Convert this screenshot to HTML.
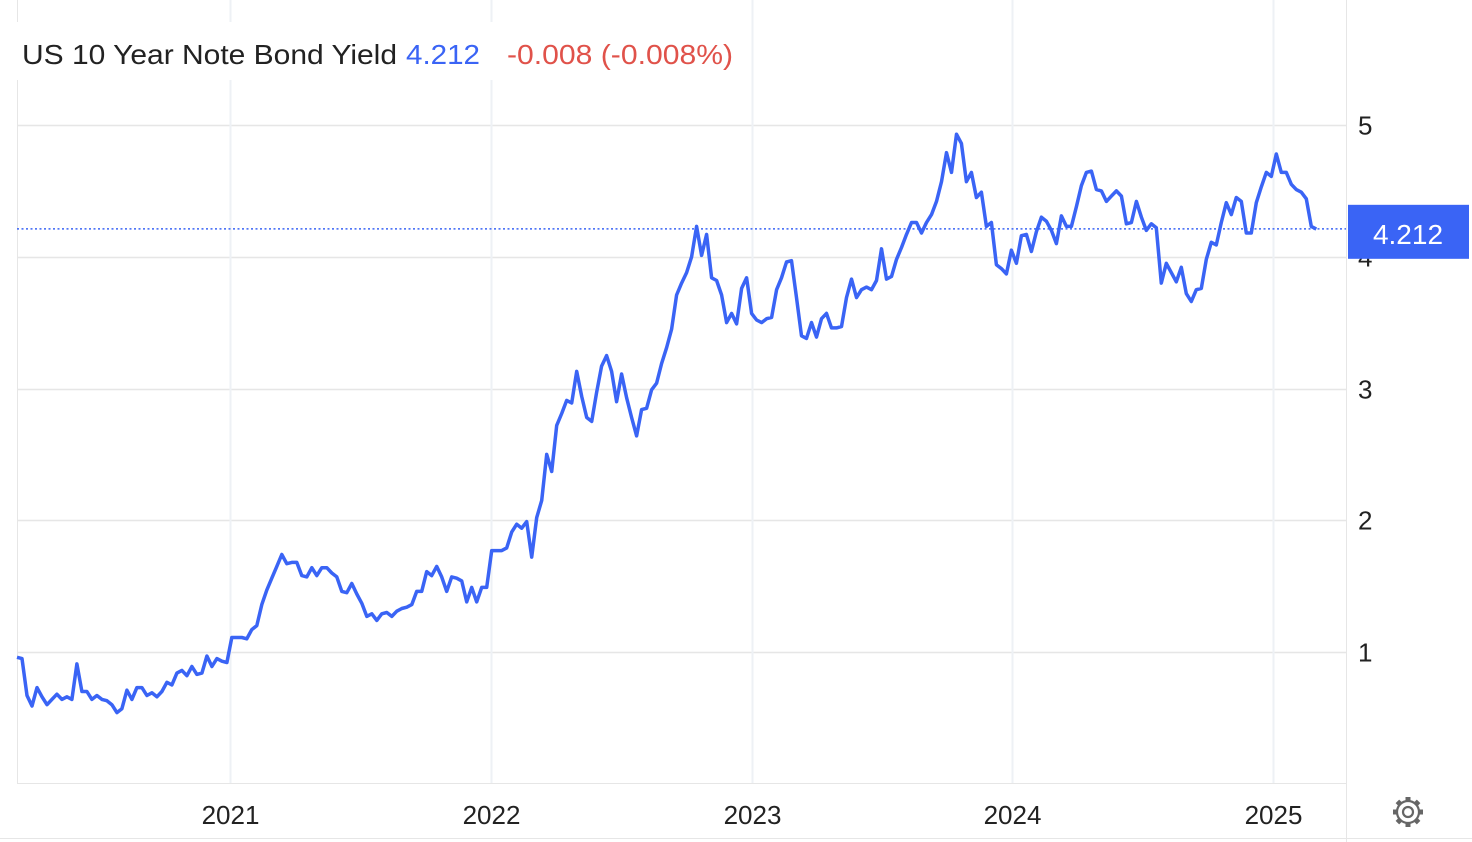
<!DOCTYPE html>
<html><head><meta charset="utf-8"><style>
html,body{margin:0;padding:0;background:#fff;width:1472px;height:842px;overflow:hidden;font-family:"Liberation Sans",Arial,sans-serif}
svg{position:absolute;left:0;top:0}
</style></head><body>
<svg id="chart" width="1472" height="842" viewBox="0 0 1472 842" xmlns="http://www.w3.org/2000/svg">
<g id="grid"></g>
<line x1="17.5" y1="0" x2="17.5" y2="783" stroke="#e6e6e6" stroke-width="1"/>
<line x1="1346.5" y1="0" x2="1346.5" y2="842" stroke="#e6e6e6" stroke-width="1"/>
<line x1="17" y1="783.5" x2="1346" y2="783.5" stroke="#e6e6e6" stroke-width="1"/>
<line x1="0" y1="838.5" x2="1472" y2="838.5" stroke="#e6e6e6" stroke-width="1"/>
<g id="ticks"></g>
<line id="lastline" stroke="#3a64f5" stroke-width="1.5" stroke-dasharray="2,2.5"/>
<path id="series" fill="none" stroke="#3a64f5" stroke-width="3.5" stroke-linejoin="round"/>
<rect x="12" y="22" width="732" height="58" fill="#fff"/>
<text x="22" y="64" font-size="28" fill="#222" textLength="375" lengthAdjust="spacingAndGlyphs">US 10 Year Note Bond Yield</text>
<text x="406" y="64" font-size="28" fill="#3a64f5" textLength="74" lengthAdjust="spacingAndGlyphs">4.212</text>
<text x="507" y="64" font-size="28" fill="#e0524a" textLength="226" lengthAdjust="spacingAndGlyphs">-0.008 (-0.008%)</text>
<g id="tag"></g>
<g transform="translate(1408,812)" fill="none" stroke="#666" stroke-width="2.2">
<circle r="11"/><circle r="5"/>
<g stroke-width="5" stroke-linecap="butt"><line x1="0" y1="-11" x2="0" y2="-15"/><line x1="0" y1="11" x2="0" y2="15"/><line x1="-11" y1="0" x2="-15" y2="0"/><line x1="11" y1="0" x2="15" y2="0"/><line x1="7.8" y1="7.8" x2="10.6" y2="10.6"/><line x1="-7.8" y1="-7.8" x2="-10.6" y2="-10.6"/><line x1="7.8" y1="-7.8" x2="10.6" y2="-10.6"/><line x1="-7.8" y1="7.8" x2="-10.6" y2="10.6"/></g>
</g>
</svg>
<script>
const yTicks=[1,2,3,4,5];
const xTicks=[2021,2022,2023,2024,2025];
const startDate=2020.183;
const lastValue=4.212;
const values=[0.96,0.95,0.67,0.59,0.73,0.66,0.60,0.64,0.68,0.64,0.66,0.64,0.91,0.70,0.70,0.64,0.67,0.64,0.63,0.60,0.54,0.57,0.71,0.64,0.73,0.73,0.67,0.69,0.66,0.70,0.77,0.75,0.84,0.86,0.82,0.89,0.83,0.84,0.97,0.89,0.95,0.93,0.92,1.11,1.11,1.11,1.10,1.17,1.20,1.36,1.47,1.56,1.65,1.74,1.67,1.68,1.68,1.58,1.57,1.64,1.58,1.64,1.64,1.60,1.57,1.46,1.45,1.52,1.44,1.37,1.27,1.29,1.24,1.29,1.30,1.27,1.31,1.33,1.34,1.36,1.46,1.46,1.61,1.58,1.65,1.57,1.46,1.57,1.56,1.54,1.38,1.49,1.38,1.49,1.49,1.77,1.77,1.77,1.79,1.91,1.97,1.94,1.99,1.72,2.02,2.15,2.50,2.37,2.72,2.81,2.91,2.89,3.13,2.94,2.78,2.75,2.97,3.17,3.25,3.13,2.90,3.11,2.93,2.78,2.64,2.84,2.85,2.99,3.04,3.19,3.31,3.45,3.71,3.80,3.88,4.00,4.23,4.01,4.17,3.84,3.82,3.71,3.50,3.57,3.49,3.76,3.84,3.57,3.52,3.50,3.53,3.54,3.75,3.84,3.96,3.97,3.69,3.40,3.38,3.50,3.39,3.53,3.57,3.46,3.46,3.47,3.69,3.83,3.69,3.75,3.77,3.75,3.82,4.06,3.83,3.85,3.98,4.07,4.17,4.26,4.26,4.18,4.26,4.32,4.42,4.57,4.79,4.64,4.93,4.86,4.57,4.64,4.45,4.49,4.23,4.26,3.94,3.91,3.87,4.05,3.95,4.16,4.17,4.04,4.19,4.30,4.27,4.20,4.10,4.31,4.23,4.23,4.38,4.54,4.64,4.65,4.51,4.50,4.42,4.46,4.50,4.46,4.25,4.26,4.42,4.30,4.20,4.25,4.22,3.80,3.95,3.88,3.81,3.92,3.72,3.66,3.75,3.76,3.98,4.11,4.09,4.26,4.41,4.32,4.45,4.42,4.18,4.18,4.41,4.53,4.64,4.61,4.78,4.64,4.64,4.55,4.51,4.49,4.44,4.23,4.21];
const NS='http://www.w3.org/2000/svg';
function xScale(t){return 230+(t-2021)*260.75;}
function yScale(v){return 652-(v-1)*131.75;}
function mk(tag,attrs,parent){const e=document.createElementNS(NS,tag);for(const k in attrs)e.setAttribute(k,attrs[k]);parent.appendChild(e);return e;}
const grid=document.getElementById('grid'),ticks=document.getElementById('ticks');
yTicks.forEach(v=>{const y=Math.round(yScale(v))+0.5;
 const l=mk('line',{x1:17,x2:1346,y1:y,y2:y,stroke:'#e6e6e6','stroke-width':1.5},grid);
 
 
 const t=mk('text',{x:1358,y:y+9,'font-size':26,fill:'#222'},ticks);t.textContent=v;
 
 
});
xTicks.forEach(yr=>{const x=Math.round(xScale(yr))+0.5;
 const l=mk('line',{x1:x,x2:x,y1:0,y2:783,stroke:'#eef1f5','stroke-width':2},grid);
 
 
 const t=mk('text',{x:x,y:824,'font-size':26,fill:'#222','text-anchor':'middle'},ticks);t.textContent=yr;
 
 
});
let d='';values.forEach((v,i)=>{const x=xScale(startDate+i*7/365.25),y=yScale(v);d+=(i?'L':'M')+x.toFixed(1)+','+y.toFixed(1);});
document.getElementById('series').setAttribute('d',d);
const ly=yScale(lastValue);
const ll=document.getElementById('lastline');
ll.setAttribute('x1',17);ll.setAttribute('x2',1346);ll.setAttribute('y1',ly);ll.setAttribute('y2',ly);
const tag=document.getElementById('tag');
const r=mk('rect',{x:1348,y:ly-24,width:121,height:54,fill:'#3a64f5'},tag);


const tt=mk('text',{x:1408,y:ly+15,'font-size':28,fill:'#fff','text-anchor':'middle'},tag);tt.textContent=lastValue.toFixed(3);


</script>
</body></html>
